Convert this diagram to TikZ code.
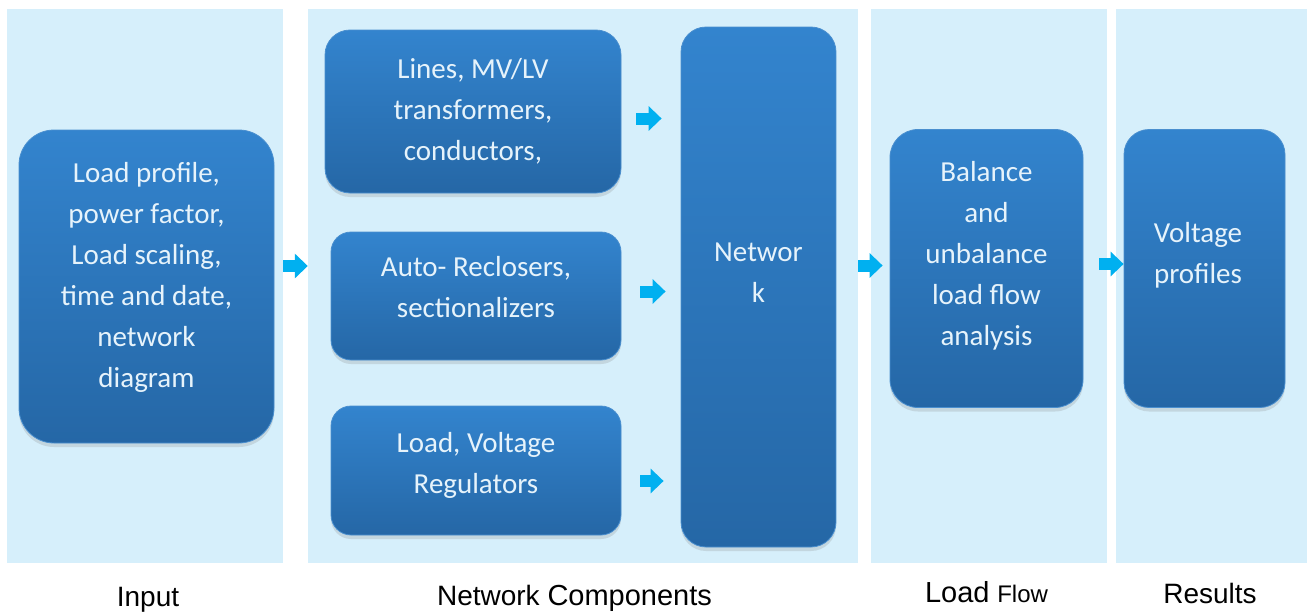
\documentclass[tikz,border=0pt]{standalone}
\usepackage{fontspec}
\setmainfont{Carlito}
\newfontfamily\captionfont{Liberation Sans}
\usepackage{xcolor}
\usepackage{tikz}
\usetikzlibrary{arrows.meta, shadows}
\definecolor{PanelBg}{RGB}{214, 239, 251}
\definecolor{BoxTop}{RGB}{51, 132, 206}
\definecolor{BoxBottom}{RGB}{37, 103, 166}
\definecolor{BoxEdge}{RGB}{74, 143, 207}
\definecolor{BoxText}{RGB}{230, 243, 251}
\definecolor{FlowCyan}{RGB}{0, 176, 240}

\begin{document}
\begin{tikzpicture}[
    x=1pt, y=-1pt,
    panel/.style={rectangle, fill=PanelBg, inner sep=0pt, minimum height=554pt},
    box/.style={rectangle, rounded corners=25pt, draw=BoxEdge, line width=0.8pt, top color=BoxTop, bottom color=BoxBottom, inner sep=0pt, drop shadow={shadow xshift=0pt, shadow yshift=-4pt, opacity=0.22}},
    txt/.style={align=center, text=BoxText, font=\fontsize{29}{41}\selectfont, inner sep=0pt},
    caption/.style={anchor=base, inner sep=0pt, font=\captionfont\fontsize{28}{34}\selectfont},
    flow/.style={draw=FlowCyan, line width=12pt, -{Triangle[length=13pt, width=24pt]}}
]
\path[use as bounding box, fill=white] (0,0) rectangle (1307,613);

% stage panels
\node (inpanel) [panel, minimum width=276pt] at (145,286) {};
\node (ncpanel) [panel, minimum width=550pt] at (583,286) {};
\node (lfpanel) [panel, minimum width=236pt] at (989,286) {};
\node (respanel) [panel, minimum width=191pt] at (1211.5,286) {};

% boxes
\node (inbox) [box, rounded corners=35pt, minimum width=255pt, minimum height=313pt] at (146.5,286.5) {};
\node (linesbox) [box, minimum width=296pt, minimum height=163pt] at (473,111.5) {};
\node (autobox) [box, rounded corners=20pt, minimum width=290pt, minimum height=128pt] at (476,296) {};
\node (loadbox) [box, rounded corners=20pt, minimum width=290pt, minimum height=129pt] at (476,470.5) {};
\node (netbox) [box, minimum width=155pt, minimum height=520pt] at (758.5,287) {};
\node (balbox) [box, rounded corners=28pt, minimum width=193pt, minimum height=278pt] at (986.5,268.5) {};
\node (voltbox) [box, minimum width=161pt, minimum height=278pt] at (1204.5,268.5) {};

\node (inbox-t) [txt] at ([yshift=9.5pt]inbox.center) {Load profile,\\power factor,\\Load scaling,\\time and date,\\network\\diagram};
\node (linesbox-t) [txt] at (linesbox.center) {Lines, MV/LV\\transformers,\\conductors,};
\node (autobox-t) [txt] at ([yshift=9pt]autobox.center) {Auto- Reclosers,\\sectionalizers};
\node (loadbox-t) [txt] at ([yshift=5.5pt]loadbox.center) {Load, Voltage\\Regulators};
\node (netbox-t) [txt] at ([yshift=14.5pt]netbox.center) {Networ\\k};
\node (balbox-t) [txt] at ([yshift=12.5pt]balbox.center) {Balance\\and\\unbalance\\load flow\\analysis};
\node (voltbox-t) [txt] at ([xshift=-6.5pt, yshift=13pt]voltbox.center) {Voltage\\profiles};

% captions
\node (incap) [caption] at (148,606) {Input};
\node (nccap) [caption] at (574.5,605) {Network {\fontsize{29}{34}\selectfont Components}};
\node (lfcap) [caption] at (986.5,602) {{\fontsize{29}{34}\selectfont Load} {\fontsize{24}{30}\selectfont Flow}};
\node (rescap) [caption] at (1210,603) {Results};

% flow arrows
\draw [flow, shorten <=9pt] (inbox.east |- 0,266) -- (ncpanel.west |- 0,266);
\draw [flow, shorten <=15pt, shorten >=19pt] (linesbox.east |- 0,118.5) -- (netbox.west |- 0,118.5);
\draw [flow, shorten <=19pt, shorten >=15pt] (autobox.east |- 0,291.5) -- (netbox.west |- 0,291.5);
\draw [flow, shorten <=19pt, shorten >=17pt] (loadbox.east |- 0,481) -- (netbox.west |- 0,481);
\draw [flow, shorten <=22pt, shorten >=7pt] (netbox.east |- 0,265.5) -- (balbox.west |- 0,265.5);
\draw [flow, shorten <=16pt] (balbox.east |- 0,264) -- (voltbox.west |- 0,264);

\end{tikzpicture}
\end{document}
